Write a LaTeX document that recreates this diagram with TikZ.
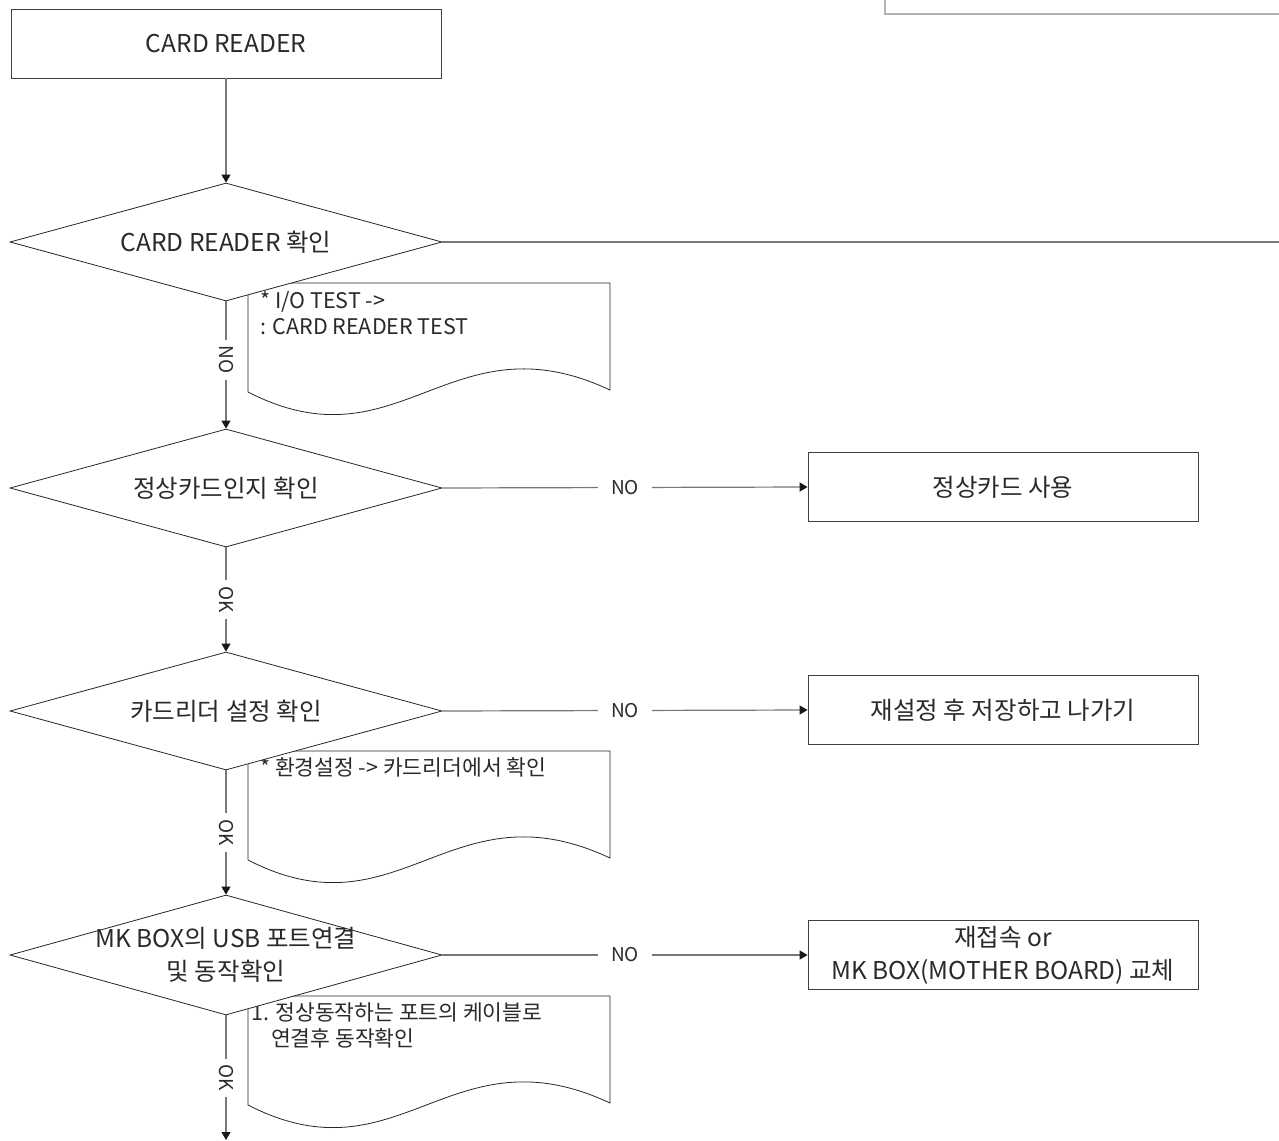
\documentclass[tikz,border=0pt]{standalone}
\usepackage{fontspec}
\setmainfont{Noto Sans CJK KR}
\usetikzlibrary{shapes.geometric,arrows.meta}
\definecolor{txtc}{HTML}{2A2A2A}
\definecolor{linec}{HTML}{777777}
\tikzset{
  flow/.style={draw=black!85, line width=0.8pt, fill=white},
  dia/.style={flow, shape=diamond, minimum width=432pt, minimum height=118pt, inner sep=0pt},
  pbox/.style={flow, draw=black!75, minimum width=390pt, minimum height=69pt, inner sep=0pt},
  conn/.style={draw=linec, line width=1.2pt},
  arr/.style={conn, -{Triangle[length=8pt,width=9pt,color=black!90]}},
  maintxt/.style={text=txtc, font=\fontsize{24.5}{33}\selectfont, align=center},
  notetxt/.style={text=txtc, font=\fontsize{21.5}{26}\selectfont, align=left, anchor=north west, inner sep=0pt},
  lbl/.style={fill=white, text=txtc, font=\fontsize{19}{22}\selectfont, inner ysep=3pt, inner xsep=13pt},
  vlbl/.style={fill=white, text=txtc, font=\fontsize{19}{22}\selectfont, inner ysep=3pt, inner xsep=6pt, rotate=-90},
  notebox/.pic={\draw[flow] (0,0) -- (362,0) -- (362,107) .. controls (202,32) and (152,187) .. (0,109) -- cycle;}
}
\begin{document}
\begin{tikzpicture}[x=1pt,y=-1pt]
\useasboundingbox (0,0) rectangle (1279,1140);
\fill[white] (0,0) rectangle (1279,1140);
% top right partial frame
\draw[draw=black!30, line width=1.8pt] (885,-5) -- (885,14) -- (1285,14);
% notes (behind diamonds)
\pic at (248,283) {notebox};
\pic at (248,751) {notebox};
\pic at (248,996) {notebox};
\node[notetxt] (n1) at (260,291) {* I/O TEST ->\\: CARD READER TEST};
\node[notetxt] (n2) at (260,757) {* 환경설정 -> 카드리더에서 확인};
\node[notetxt] (n3) at (251,1003) {1. 정상동작하는 포트의 케이블로\\\hspace*{20pt}연결후 동작확인};
% boxes
\node[flow, draw=black!75, minimum width=430pt, minimum height=69pt, inner sep=0pt] (top) at (226,43.5) {};
\node[maintxt] (topt) at (top.center) {CARD READER};
\node[pbox] (b2) at (1003,487) {};
\node[maintxt] (b2t) at (b2.center) {정상카드 사용};
\node[pbox] (b3) at (1003,710) {};
\node[maintxt] (b3t) at (b3.center) {재설정 후 저장하고 나가기};
\node[pbox] (b4) at (1003,955) {};
\node[maintxt] (b4t) at (b4.center) {재접속 or\\MK BOX(MOTHER BOARD) 교체};
% diamonds
\node[dia] (d1) at (226,242) {};
\node[maintxt] (d1t) at (d1.center) {CARD READER 확인};
\node[dia] (d2) at (226,488) {};
\node[maintxt] (d2t) at (d2.center) {정상카드인지 확인};
\node[dia] (d3) at (226,711) {};
\node[maintxt] (d3t) at (d3.center) {카드리더 설정 확인};
\node[dia, minimum height=120pt] (d4) at (226,955) {};
\node[maintxt] (d4t) at (d4.center) {MK BOX의 USB 포트연결\\및 동작확인};
% connectors
\coordinate (r1) at (1279,242);
\coordinate (endp) at (226,1140);
\draw[arr] (top.south) -- (d1.north);
\draw[conn] (d1.east) -- (r1);
\draw[arr] (d1.south) -- node[vlbl, pos=0.46] {NO} (d2.north);
\draw[arr] (d2.south) -- node[vlbl] {OK} (d3.north);
\draw[arr] (d3.south) -- node[vlbl] {OK} (d4.north);
\draw[arr] (d4.south) -- node[vlbl] {OK} (endp);
\draw[arr] (d2.east) -- node[lbl] {NO} (b2.west);
\draw[arr] (d3.east) -- node[lbl] {NO} (b3.west);
\draw[arr] (d4.east) -- node[lbl] {NO} (b4.west);
\end{tikzpicture}
\end{document}
